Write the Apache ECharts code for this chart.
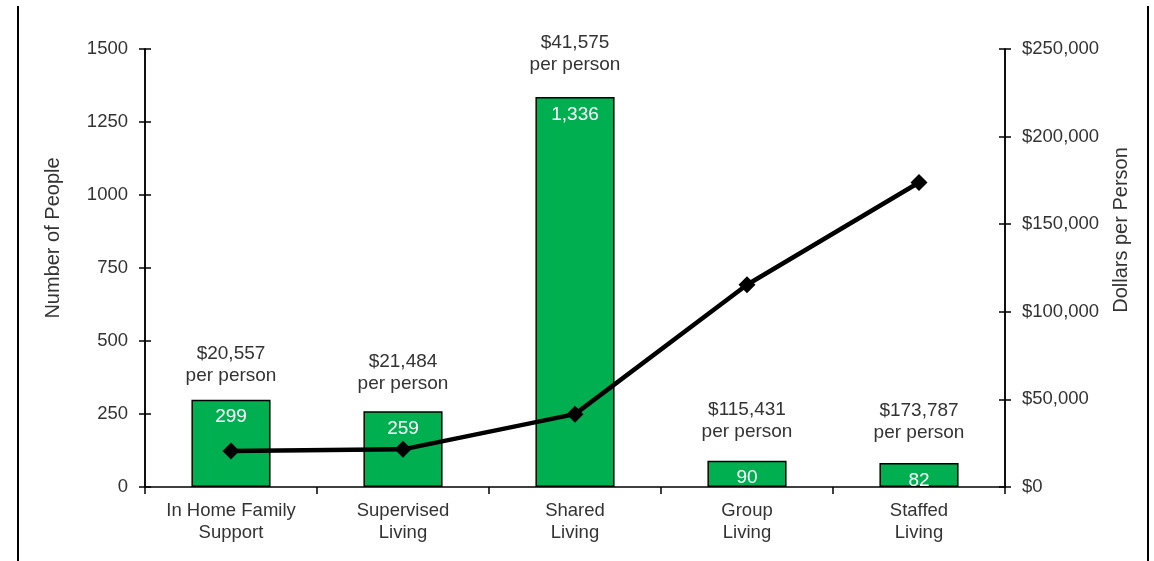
<!DOCTYPE html>
<html><head><meta charset="utf-8">
<script src="https://cdn.jsdelivr.net/npm/echarts@6/dist/echarts.min.js"></script>
<style>html,body{margin:0;padding:0;background:#fff}#c{width:1154px;height:561px;position:relative}
#bl{position:absolute;left:17px;top:6px;width:2px;height:555px;background:#000}
#br{position:absolute;left:1147px;top:6px;width:2px;height:555px;background:#000}</style>
</head><body><div id="c"></div><div id="bl"></div><div id="br"></div>
<script>
const categories = ['In Home Family\nSupport', 'Supervised\nLiving', 'Shared\nLiving', 'Group\nLiving', 'Staffed\nLiving'];
const people = [299, 259, 1336, 90, 82];
const dollarsPerPerson = [20557, 21484, 41575, 115431, 173787];
const leftTicks = [0, 250, 500, 750, 1000, 1250, 1500];
const rightTicks = [0, 50000, 100000, 150000, 200000, 250000];

// label offsets above bars (layout only)
const labelGap = [13, 17, 21, 18, 19];

const txt = '#333';
const font = 'Liberation Sans, Arial, sans-serif';
const fmtMoney = v => '$' + v.toLocaleString('en-US');
const chart = echarts.init(document.getElementById('c'), null, {renderer: 'canvas'});
const axisBase = {
  axisLine: {show: true, lineStyle: {color: '#000', width: 1.5}},
  splitLine: {show: false}
};
chart.setOption({
  animation: false,
  textStyle: {fontFamily: font},
  grid: {left: 145, right: 149, top: 49, bottom: 74},
  xAxis: {
    type: 'category', data: categories, boundaryGap: true,
    axisLine: {lineStyle: {color: '#000', width: 1.5}},
    axisTick: {show: true, length: 7, lineStyle: {color: '#000', width: 1.5}},
    axisLabel: {color: txt, fontSize: 18.5, fontFamily: font, lineHeight: 22, margin: 13}
  },
  yAxis: [
    Object.assign({}, axisBase, {type: 'value', position: 'left', min: leftTicks[0], max: leftTicks[leftTicks.length-1], interval: 250,
      name: 'Number of People', nameLocation: 'middle', nameGap: 82, nameRotate: 90,
      nameTextStyle: {color: txt, fontSize: 20, fontFamily: font, padding: [0, 0, 0, 60]},
      axisTick: {show: true, length: 6, lineStyle: {color: '#000', width: 1.5}},
      axisLabel: {color: txt, fontSize: 18.5, fontFamily: font, margin: 17, formatter: v => String(v)}}),
    Object.assign({}, axisBase, {type: 'value', position: 'right', min: rightTicks[0], max: rightTicks[rightTicks.length-1], interval: 50000,
      name: 'Dollars per Person', nameLocation: 'middle', nameGap: 106, nameRotate: 90,
      nameTextStyle: {color: txt, fontSize: 20, fontFamily: font, padding: [0, 0, 0, 76]},
      axisTick: {show: true, length: 6, lineStyle: {color: '#000', width: 1.5}},
      axisLabel: {color: txt, fontSize: 18.5, fontFamily: font, margin: 17, formatter: fmtMoney}}),
    Object.assign({}, axisBase, {type: 'value', position: 'left', min: 0, max: 1500, interval: 250,
      axisLabel: {show: false}, axisTick: {show: true, inside: true, length: 6, lineStyle: {color: '#000', width: 1.5}}}),
    Object.assign({}, axisBase, {type: 'value', position: 'right', min: 0, max: 250000, interval: 50000,
      axisLabel: {show: false}, axisTick: {show: true, inside: true, length: 6, lineStyle: {color: '#000', width: 1.5}}})
  ],
  series: [
    {type: 'bar', data: people, yAxisIndex: 0, barWidth: '46%', barGap: '-100%',
      itemStyle: {color: '#00B050', borderColor: '#000', borderWidth: 1.5},
      label: {show: true, position: 'insideTop', distance: 8, color: '#fff', fontSize: 19, fontFamily: font,
        formatter: p => p.value.toLocaleString('en-US')}},
    {type: 'bar', yAxisIndex: 0, barWidth: '46%', barGap: '-100%', silent: true,
      data: people.map((v, i) => ({value: v, label: {distance: labelGap[i]}})),
      itemStyle: {color: 'rgba(0,0,0,0)'},
      label: {show: true, position: 'top', color: txt, fontSize: 19, fontFamily: font, lineHeight: 22,
        formatter: p => fmtMoney(dollarsPerPerson[p.dataIndex]) + '\nper person'}},
    {type: 'line', data: dollarsPerPerson, yAxisIndex: 1, z: 5,
      lineStyle: {color: '#000', width: 4.5}, itemStyle: {color: '#000'},
      symbol: 'diamond', symbolSize: 17, showSymbol: true}
  ]
});
</script></body></html>
